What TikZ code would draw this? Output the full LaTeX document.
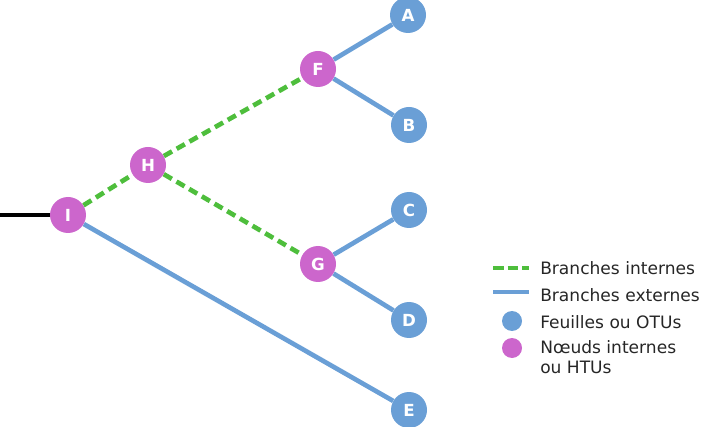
\documentclass[tikz,border=0pt]{standalone}
\usepackage{fontspec}
\setmainfont{DejaVu Sans}
\begin{document}
\begin{tikzpicture}[x=0.75pt,y=-0.75pt,
  leaf/.style={circle,fill=leafblue,minimum size=27pt,inner sep=0pt,text=white,font=\bfseries\fontsize{12.5}{12.5}\selectfont},
  inner/.style={circle,fill=nodemag,minimum size=27pt,inner sep=0pt,text=white,font=\bfseries\fontsize{12.5}{12.5}\selectfont},
  ext/.style={draw=leafblue,line width=3.5pt},
  intb/.style={draw=intgreen,line width=3.5pt,dash pattern=on 7pt off 4pt},
  legtext/.style={anchor=west,font=\fontsize{12.8}{15.5}\selectfont,text=black!85,align=left,inner sep=0pt}
]
\definecolor{leafblue}{HTML}{6A9FD6}
\definecolor{nodemag}{HTML}{CC66CC}
\definecolor{intgreen}{HTML}{4EBE3C}
\useasboundingbox (0,0) rectangle (713,427);
\node[leaf] (A) at (408,15) {A};
\node[leaf] (B) at (409,125) {B};
\node[leaf] (C) at (409,210) {C};
\node[leaf] (D) at (409,320) {D};
\node[leaf] (E) at (409,410) {E};
\node[inner] (F) at (318,69) {F};
\node[inner] (G) at (318,264) {G};
\node[inner] (H) at (148,165) {H};
\node[inner] (I) at (68,215) {I};
\coordinate (root) at (0,215);
\draw[line width=3.5pt,black] (root) -- (I);
\draw[intb] (I) -- (H);
\draw[intb] (H) -- (F);
\draw[intb] (H) -- (G);
\draw[ext] (F) -- (A);
\draw[ext] (F) -- (B);
\draw[ext] (G) -- (C);
\draw[ext] (G) -- (D);
\draw[ext] (I) -- (E);
% legend
\coordinate (lg1) at (493,268); \coordinate (lg2) at (529,268);
\draw[intb,dash pattern=on 8pt off 3pt] (lg1) -- (lg2);
\node[legtext] (t1) at (540,268) {Branches internes};
\coordinate (lb1) at (493,292); \coordinate (lb2) at (529,292);
\draw[ext] (lb1) -- (lb2);
\node[legtext] (t2) at (540,295) {Branches externes};
\node[circle,fill=leafblue,minimum size=15pt,inner sep=0pt] (lc) at (512,321) {};
\node[legtext] (t3) at (540,322) {Feuilles ou OTUs};
\node[circle,fill=nodemag,minimum size=15pt,inner sep=0pt] (lm) at (512,348) {};
\node[legtext,anchor=north west] (t4) at (540,340) {Nœuds internes\\ou HTUs};
\end{tikzpicture}
\end{document}
